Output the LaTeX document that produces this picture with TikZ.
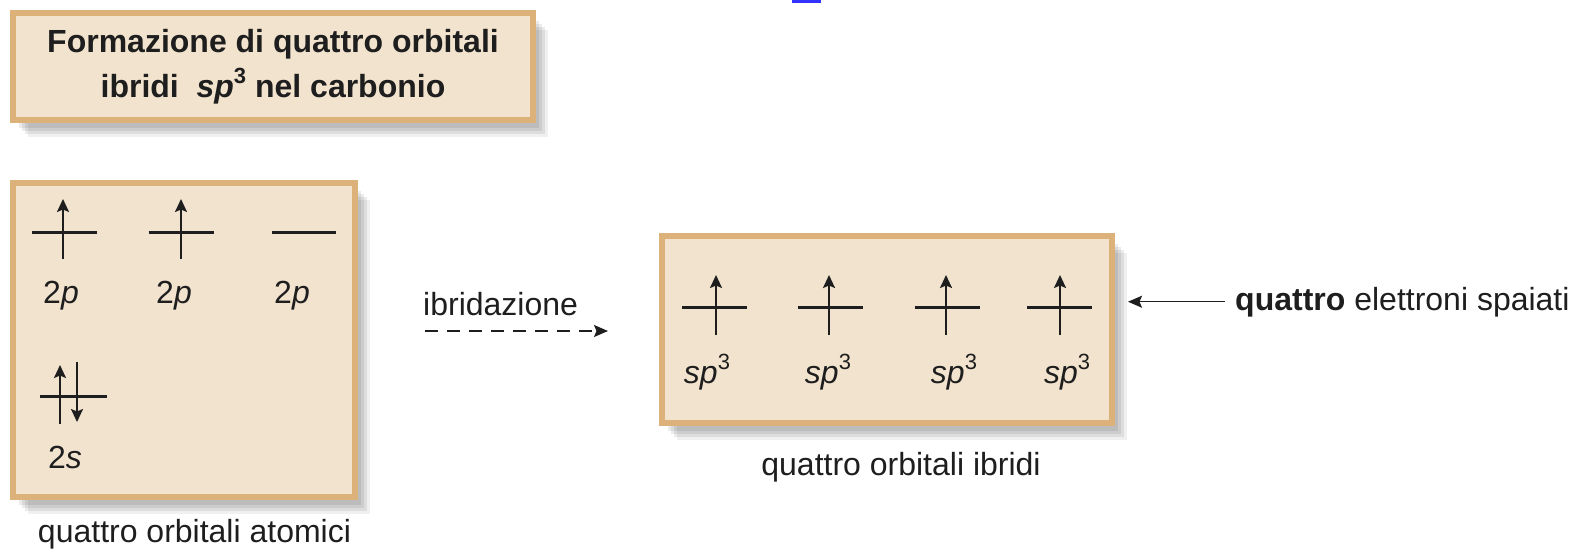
\documentclass[tikz,border=0pt]{standalone}
\usepackage{fontspec}
\setmainfont{Liberation Sans}
\usetikzlibrary{arrows.meta, positioning}
\definecolor{boxfill}{RGB}{242,227,206}
\definecolor{boxline}{RGB}{221,177,122}
\definecolor{ink}{RGB}{30,30,30}
\newcommand{\sptre}{\textit{sp}\raisebox{0.42em}{\fontsize{22}{22}\selectfont 3}}
\tikzset{
  orb box/.style={
    rectangle, draw=boxline, line width=6pt, fill=boxfill, inner sep=0pt,
    preaction={fill=black, opacity=0.08, transform canvas={shift={(6pt,-8pt)}}},
    preaction={fill=black, opacity=0.08, transform canvas={shift={(9pt,-11pt)}}},
    preaction={fill=black, opacity=0.08, transform canvas={shift={(12pt,-14pt)}}},
    preaction={fill=black, opacity=0.06, transform canvas={shift={(15pt,-17pt)}}}
  },
  orb level/.style={line width=3pt, draw=ink},
  orb spin/.style={line width=2pt, draw=ink, -{Stealth[length=13pt, width=12pt, inset=2.5pt]}},
  orb label/.style={anchor=base, inner sep=0pt, text=ink},
  hyb arrow/.style={line width=1.5pt, draw=ink, dash pattern=on 13pt off 9pt,
    -{Stealth[length=14pt, width=12pt, inset=2.5pt]}},
  note arrow/.style={line width=1.5pt, draw=ink, -{Stealth[length=14pt, width=12pt, inset=2.5pt]}}
}

\begin{document}
\begin{tikzpicture}[x=1pt, y=-1pt, font=\fontsize{32}{45}\selectfont]
  \useasboundingbox (0,0) rectangle (1578,552);
  \fill[blue!80] (792,0) rectangle (821,2.5);

  % titolo
  \node (title) [orb box, minimum width=520pt, minimum height=107pt, align=center,
    text=ink, font=\fontsize{32}{45}\selectfont\bfseries] at (273,66.5)
    {Formazione di quattro orbitali\\ibridi\ \ \textit{sp}\raisebox{0.42em}{\fontsize{22}{22}\selectfont 3} nel carbonio};

  % orbitali atomici
  \node (lbox) [orb box, minimum width=342pt, minimum height=314pt] at (184,340) {};
  \foreach \lx/\ax/\tx [count=\i] in {64.5/63/61, 181/181/174} {
    \draw[orb level] (\lx-32.5,232) -- (\lx+32.5,232);
    \draw[orb spin] (\ax,259) -- (\ax,199);
    \node (p\i) [orb label] at (\tx,303) {2\textit{p}};
  }
  \draw[orb level] (272,232) -- (336,232);
  \node (p3) [orb label] at (292,303) {2\textit{p}};
  \draw[orb level] (40,396) -- (107,396);
  \draw[orb spin] (60,424) -- (60,365);
  \draw[orb spin] (77,362) -- (77,422);
  \node (s1) [orb label] at (65,468) {2\textit{s}};
  \node (atomic) [orb label] at (194.5,542) {quattro orbitali atomici};

  % ibridazione
  \node (hyb) [orb label, anchor=base west] at (423,315) {ibridazione};
  \coordinate (hyb from) at (425,331);
  \coordinate (hyb to) at (608,331);
  \draw[hyb arrow] (hyb from) -- (hyb to);

  % orbitali ibridi
  \node (rbox) [orb box, minimum width=450pt, minimum height=187pt] at (887,329.5) {};
  \foreach \lx/\ax/\tx [count=\i] in {714.5/716/707, 830/829/828, 947/946/954, 1059.5/1060/1067} {
    \draw[orb level] (\lx-32.5,307) -- (\lx+32.5,307);
    \draw[orb spin] (\ax,335) -- (\ax,275);
    \node (sp\i) [orb label] at (\tx,383) {\sptre};
  }
  \node (hybrid) [orb label] at (901,475) {quattro orbitali ibridi};

  % elettroni spaiati
  \node (spaiati) [orb label, anchor=base west] at (1235,310)
    {\textbf{quattro} elettroni spaiati};
  \draw[note arrow, shorten <=10pt, shorten >=13pt] (spaiati.west) -- (spaiati.west -| rbox.east);
\end{tikzpicture}
\end{document}
